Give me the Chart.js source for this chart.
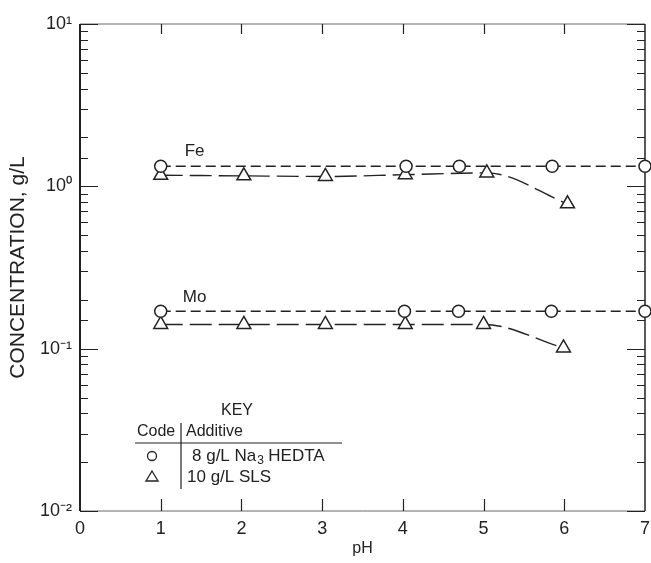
<!DOCTYPE html>
<html>
<head>
<meta charset="utf-8">
<script src="https://cdn.jsdelivr.net/npm/chart.js@4/dist/chart.umd.min.js"></script>
<style>
  html, body { margin: 0; padding: 0; background: #fff; overflow: hidden; }
  #wrap { width: 657px; height: 563px; }
</style>
</head>
<body>
<div id="wrap"><canvas id="c"></canvas></div>
<script>
// values (pH vs g/L)
const phFeHedta = [1.0, 4.04, 4.7, 5.85, 7.0];
const feHedta = [1.33, 1.33, 1.33, 1.33, 1.33];
const phFeSls = [1.0, 2.03, 3.04, 4.03, 5.04, 6.04];
const feSls = [1.17, 1.16, 1.15, 1.18, 1.21, 0.78];

const phMoHedta = [1.0, 4.02, 4.69, 5.84, 7.0];
const moHedta = [0.17, 0.17, 0.17, 0.17, 0.17];
const phMoSls = [1.0, 2.03, 3.04, 4.03, 5.0, 5.99];
const moSls = [0.141, 0.141, 0.141, 0.141, 0.141, 0.101];

const xTickValues = [0, 1, 2, 3, 4, 5, 6, 7];
const yMajorTicks = [0.01, 0.1, 1, 10];
const yTickLabels = ['10\u207B\u00B2', '10\u207B\u00B9', '10\u2070', '10\u00B9'];

const ink = '#222';
const font = "'Liberation Sans', Arial, sans-serif";

function toXY(xs, ys) {
  return xs.map((x, i) => ({ x: x, y: ys[i] }));
}

function isMajor(v) {
  return yMajorTicks.findIndex(m => Math.abs(m - v) / m < 1e-6);
}

// box, inward ticks, curve labels and the key
const decorPlugin = {
  id: 'decor',
  beforeDatasetsDraw(chart) {
    const { ctx, chartArea: a, scales } = chart;
    const xs = scales.x, ys = scales.y;
    ctx.save();

    // frame
    ctx.lineWidth = 1;
    ctx.strokeStyle = '#666';
    ctx.beginPath();
    ctx.moveTo(a.left, a.top); ctx.lineTo(a.right, a.top);
    ctx.moveTo(a.left, a.bottom); ctx.lineTo(a.right, a.bottom);
    ctx.stroke();
    ctx.strokeStyle = ink;
    ctx.lineWidth = 2;
    ctx.beginPath();
    ctx.moveTo(a.left, a.top); ctx.lineTo(a.left, a.bottom);
    ctx.stroke();
    ctx.lineWidth = 1.5;
    ctx.beginPath();
    ctx.moveTo(a.right, a.top); ctx.lineTo(a.right, a.bottom);
    ctx.stroke();

    // y ticks, both sides
    ctx.lineWidth = 1.2;
    ys.ticks.forEach(t => {
      const py = Math.round(ys.getPixelForValue(t.value)) + 0.5;
      const len = isMajor(t.value) >= 0 ? 18 : 8;
      ctx.beginPath();
      ctx.moveTo(a.left, py); ctx.lineTo(a.left + len, py);
      ctx.moveTo(a.right, py); ctx.lineTo(a.right - len, py);
      ctx.stroke();
    });

    // x ticks, bottom and top
    xTickValues.forEach(v => {
      if (v === 0 || v === 7) return;
      const px = Math.round(xs.getPixelForValue(v)) + 0.5;
      ctx.beginPath();
      ctx.moveTo(px, a.bottom); ctx.lineTo(px, a.bottom - 12);
      ctx.moveTo(px, a.top); ctx.lineTo(px, a.top + 10);
      ctx.stroke();
    });

    // curve labels
    ctx.fillStyle = ink;
    ctx.font = '17px ' + font;
    ctx.textAlign = 'center';
    ctx.textBaseline = 'middle';
    ctx.fillText('Fe', xs.getPixelForValue(1.42), ys.getPixelForValue(1.33) - 15);
    ctx.fillText('Mo', xs.getPixelForValue(1.42), ys.getPixelForValue(0.17) - 14);

    // key
    const kx = a.left, ky = a.bottom;
    ctx.font = '16px ' + font;
    ctx.fillText('KEY', kx + 157, ky - 100);
    ctx.textAlign = 'left';
    ctx.fillText('Code', kx + 57, ky - 79);
    ctx.fillText('Additive', kx + 106, ky - 79);
    ctx.font = '17px ' + font;
    ctx.fillText('8 g/L Na', kx + 112, ky - 55);
    const w = ctx.measureText('8 g/L Na').width;
    ctx.font = '12px ' + font;
    ctx.fillText('3', kx + 112 + w + 1, ky - 50);
    ctx.font = '17px ' + font;
    ctx.fillText('HEDTA', kx + 112 + w + 12, ky - 55);
    ctx.fillText('10 g/L SLS', kx + 107, ky - 34);

    ctx.lineWidth = 1.2;
    ctx.beginPath();
    ctx.moveTo(kx + 55, ky - 68); ctx.lineTo(kx + 262, ky - 68);
    ctx.moveTo(kx + 101, ky - 88); ctx.lineTo(kx + 101, ky - 22);
    ctx.stroke();

    ctx.lineWidth = 1.3;
    ctx.beginPath();
    ctx.arc(kx + 72, ky - 55, 4.5, 0, Math.PI * 2);
    ctx.stroke();
    ctx.beginPath();
    ctx.moveTo(kx + 72, ky - 40);
    ctx.lineTo(kx + 78, ky - 30);
    ctx.lineTo(kx + 66, ky - 30);
    ctx.closePath();
    ctx.stroke();
    ctx.restore();
  }
};

function series(label, xs, ys, style, dash, mono) {
  return {
    label: label,
    data: toXY(xs, ys),
    showLine: true,
    borderColor: ink,
    borderWidth: 1.4,
    borderDash: dash,
    pointStyle: style,
    pointRadius: style === 'triangle' ? 8 : 6,
    pointBorderWidth: 1.5,
    pointBorderColor: ink,
    pointBackgroundColor: '#fff',
    cubicInterpolationMode: mono ? 'monotone' : 'default',
    tension: 0,
    clip: false
  };
}

new Chart(document.getElementById('c'), {
  type: 'scatter',
  data: {
    datasets: [
      series('Fe, 8 g/L Na3HEDTA', phFeHedta, feHedta, 'circle', [10, 5], false),
      series('Fe, 10 g/L SLS', phFeSls, feSls, 'triangle', [22, 7], true),
      series('Mo, 8 g/L Na3HEDTA', phMoHedta, moHedta, 'circle', [10, 5], false),
      series('Mo, 10 g/L SLS', phMoSls, moSls, 'triangle', [22, 7], true)
    ]
  },
  options: {
    responsive: true,
    maintainAspectRatio: false,
    animation: false,
    layout: { padding: { top: 24, right: 0, left: 0, bottom: 0 } },
    plugins: {
      legend: { display: false },
      tooltip: { enabled: false }
    },
    scales: {
      x: {
        type: 'linear',
        min: 0,
        max: 7,
        afterFit: s => { s.height = 52; },
        afterBuildTicks: s => { s.ticks = xTickValues.map(v => ({ value: v })); },
        grid: { display: false, drawTicks: false },
        border: { display: false },
        ticks: { color: ink, padding: 7, font: { family: font, size: 18 } },
        title: {
          display: true,
          text: 'pH',
          color: ink,
          padding: { top: 0, bottom: 5 },
          font: { family: font, size: 16 }
        }
      },
      y: {
        type: 'logarithmic',
        min: 0.01,
        max: 10,
        afterFit: s => { s.width = 80; },
        grid: { display: false, drawTicks: false },
        border: { display: false },
        ticks: {
          autoSkip: false,
          color: ink,
          padding: 8,
          font: { family: font, size: 18 },
          callback: v => {
            const i = isMajor(v);
            return i >= 0 ? yTickLabels[i] : '';
          }
        },
        title: {
          display: true,
          text: 'CONCENTRATION, g/L',
          color: ink,
          padding: { top: 6, bottom: 0 },
          font: { family: font, size: 21 }
        }
      }
    }
  },
  plugins: [decorPlugin]
});
</script>
</body>
</html>
